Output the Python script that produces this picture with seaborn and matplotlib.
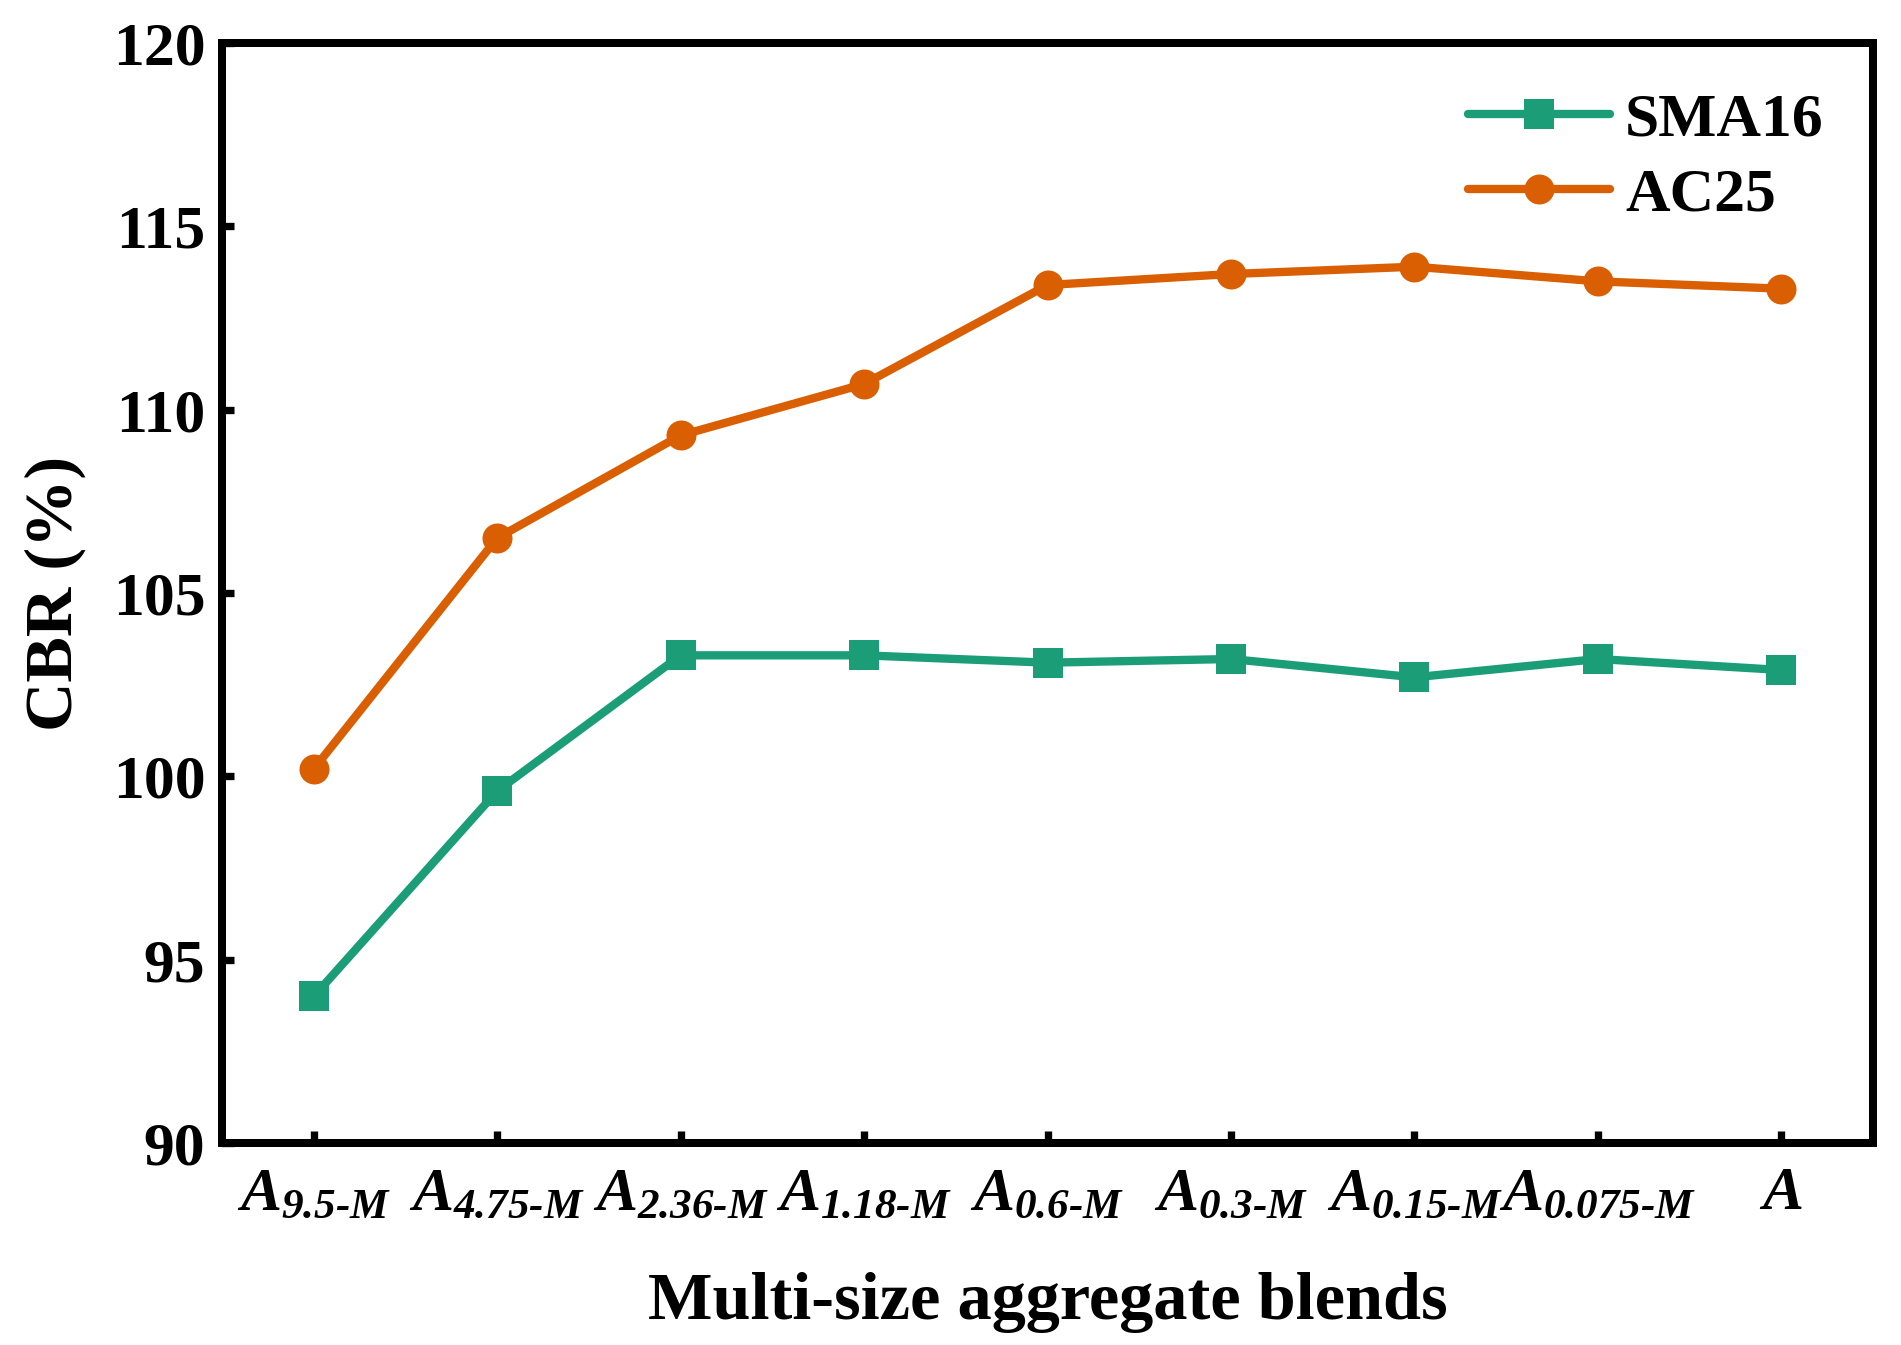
import pandas as pd
import matplotlib.pyplot as plt
import seaborn as sns

# -------------------------------
# Data
# -------------------------------
blends = [r"$A_{9.5‐M}$", r"$A_{4.75‐M}$", r"$A_{2.36‐M}$", r"$A_{1.18‐M}$",
          r"$A_{0.6‐M}$", r"$A_{0.3‐M}$", r"$A_{0.15‐M}$", r"$A_{0.075‐M}$", r"$A$"]
sma16 = [94.0, 99.6, 103.3, 103.3, 103.1, 103.2, 102.7, 103.2, 102.9]
ac25 = [100.2, 106.5, 109.3, 110.7, 113.4, 113.7, 113.9, 113.5, 113.3]
y_ticks = [90, 95, 100, 105, 110, 115, 120]

df = pd.DataFrame({
    "blend": blends * 2,
    "CBR": sma16 + ac25,
    "mix": ["SMA16"] * len(blends) + ["AC25"] * len(blends),
})

# -------------------------------
# Style
# -------------------------------
sns.set_style("ticks")
plt.rcParams["font.family"] = ["Liberation Serif", "DejaVu Serif"]
plt.rcParams["font.weight"] = "bold"
# math text only used for the blend labels -> all bold italic
plt.rcParams["mathtext.fontset"] = "custom"
plt.rcParams["mathtext.it"] = "Liberation Serif:italic:bold"
plt.rcParams["mathtext.rm"] = "Liberation Serif:italic:bold"
plt.rcParams["mathtext.default"] = "it"
for key in ["text.color", "axes.edgecolor", "axes.labelcolor", "xtick.color", "ytick.color"]:
    plt.rcParams[key] = "black"

fig = plt.figure(figsize=(1901 / 240, 1345 / 240), dpi=240)
ax = fig.add_axes([0.1168, 0.1502, 0.8685, 0.8178])

sns.lineplot(data=df, x="blend", y="CBR", hue="mix", style="mix",
             palette={"SMA16": "#1b9e77", "AC25": "#d95f02"},
             markers={"SMA16": "s", "AC25": "o"}, dashes=False,
             markersize=9, markeredgewidth=0, linewidth=2.5, sort=False, ax=ax)

ax.set_xlim(-0.5, 8.5)
ax.set_ylim(90, 120)
ax.set_yticks(y_ticks)
ax.set_xlabel("Multi-size aggregate blends", fontsize=20.5, fontweight="bold", labelpad=15)
ax.set_ylabel("CBR (%)", fontsize=20.5, fontweight="bold", labelpad=8)
ax.tick_params(direction="in", length=3.5, width=2.2, labelsize=18.5)
ax.tick_params(axis="y", pad=5)
ax.tick_params(axis="x", pad=7)
for lab in ax.get_yticklabels():
    lab.set_fontweight("bold")

for s in ax.spines.values():
    s.set_linewidth(2.4)

leg = ax.legend(loc="upper right", frameon=False, fontsize=18.5, handlelength=2.3,
                handletextpad=0.25, labelspacing=0.3, borderaxespad=0.4)
for t in leg.get_texts():
    t.set_fontweight("bold")

fig.savefig("out.png", dpi=240)
